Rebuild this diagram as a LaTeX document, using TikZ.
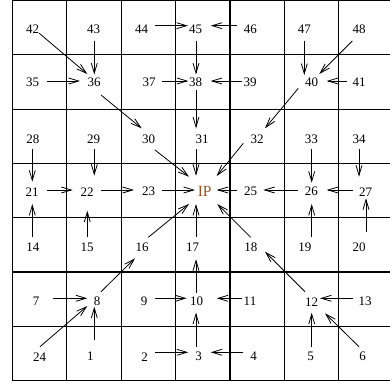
\documentclass[tikz,border=0pt]{standalone}
\usepackage{fontspec}
\setmainfont{Liberation Serif}
\usetikzlibrary{arrows.meta}
\definecolor{ipbrown}{RGB}{160,82,30}
\newcommand\conn[6]{\draw[arr] ([shift={(#2,#3)}]#1.center) -- ([shift={(#5,#6)}]#4.center);}
\begin{document}
\begin{tikzpicture}[x=1pt,y=-1pt,
  lbl/.style={inner sep=0pt, font=\fontsize{13}{13}\selectfont},
  iplbl/.style={inner sep=0pt, text=ipbrown, font=\fontsize{15.5}{15.5}\selectfont},
  arr/.style={-{Straight Barb[length=10pt,width=6pt]}, line width=0.8pt},
  gridline/.style={line width=1.2pt}]
\useasboundingbox (0,0) rectangle (390,383);
\clip (0,0) rectangle (390,383);
\fill[white] (0,0) rectangle (390,383);
% grid
\foreach \k in {0,...,6} \draw[gridline] ({12.3+54.4*\k},0) -- ({12.3+54.4*\k},381);
\foreach \k in {0,...,7} \draw[gridline] (12.3,{0.5+54.3*\k}) -- (395,{0.5+54.3*\k});
% labels row 7
\node[lbl] (n42) at (32.7,29.5) {42};
\node[lbl] (n43) at (93.7,29.5) {43};
\node[lbl] (n44) at (141.7,29.5) {44};
\node[lbl] (n45) at (195.7,29.5) {45};
\node[lbl] (n46) at (250.3,29.5) {46};
\node[lbl] (n47) at (304.3,29.5) {47};
\node[lbl] (n48) at (359,29.5) {48};
% row 6
\node[lbl] (n35) at (32.7,82.5) {35};
\node[lbl] (n36) at (94,82.5) {36};
\node[lbl] (n37) at (149,82.5) {37};
\node[lbl] (n38) at (195.7,82.5) {38};
\node[lbl] (n39) at (250,82.5) {39};
\node[lbl] (n40) at (311.7,82.5) {40};
\node[lbl] (n41) at (359,82.5) {41};
% row 5
\node[lbl] (n28) at (32.8,138.8) {28};
\node[lbl] (n29) at (93.7,138.8) {29};
\node[lbl] (n30) at (148.7,138.8) {30};
\node[lbl] (n31) at (202,138.8) {31};
\node[lbl] (n32) at (257,138.8) {32};
\node[lbl] (n33) at (311.3,138.8) {33};
\node[lbl] (n34) at (359.2,138.8) {34};
% row 4
\node[lbl] (n21) at (32,191.7) {21};
\node[lbl] (n22) at (87,191.7) {22};
\node[lbl] (n23) at (148.7,191.7) {23};
\node[iplbl] (nIP) at (204.7,191.7) {IP};
\node[lbl] (n25) at (250.5,191.7) {25};
\node[lbl] (n26) at (311.3,191.7) {26};
\node[lbl] (n27) at (365.5,191.7) {27};
% row 3
\node[lbl] (n14) at (32.8,247.7) {14};
\node[lbl] (n15) at (87,247.7) {15};
\node[lbl] (n16) at (142,247.7) {16};
\node[lbl] (n17) at (192.5,247.7) {17};
\node[lbl] (n18) at (250.8,247.7) {18};
\node[lbl] (n19) at (304.8,247.7) {19};
\node[lbl] (n20) at (359.2,247.7) {20};
% row 2
\node[lbl] (n7) at (36,301.7) {7};
\node[lbl] (n8) at (97,301.7) {8};
\node[lbl] (n9) at (144,301.7) {9};
\node[lbl] (n10) at (196.7,301.7) {10};
\node[lbl] (n11) at (250,301.7) {11};
\node[lbl] (n12) at (311.7,301.7) {12};
\node[lbl] (n13) at (365,301.7) {13};
% row 1
\node[lbl] (n24) at (39.7,356.7) {24};
\node[lbl] (n1) at (90.3,356.7) {1};
\node[lbl] (n2) at (144.5,356.7) {2};
\node[lbl] (n3) at (198.7,356.7) {3};
\node[lbl] (n4) at (253.7,356.7) {4};
\node[lbl] (n5) at (310.7,356.7) {5};
\node[lbl] (n6) at (362.7,356.7) {6};
% horizontal connectors
\conn{n44}{13.3}{-3.8}{n45}{-7.7}{-3.8}
\conn{n46}{-13}{-3.8}{n45}{15}{-3.8}
\conn{n35}{14}{-1.5}{n36}{-14}{-1.5}
\conn{n37}{13.3}{-1.5}{n38}{-7.4}{-1.5}
\conn{n39}{-8.3}{-1.5}{n38}{15}{-1.5}
\conn{n41}{-12.3}{-1.5}{n40}{15}{-1.5}
\conn{n21}{14.7}{-1.7}{n22}{-14.3}{-1.7}
\conn{n22}{14}{-1.7}{n23}{-14.7}{-1.7}
\conn{n23}{13.6}{-1.7}{nIP}{-9.7}{-1.7}
\conn{n25}{-13.2}{-1.7}{nIP}{12}{-1.7}
\conn{n26}{-13.6}{-1.7}{n25}{12.8}{-1.7}
\conn{n27}{-12.5}{-1.7}{n26}{15.4}{-1.7}
\conn{n7}{16.7}{-3.4}{n8}{-9.7}{-3.4}
\conn{n9}{11}{-3.4}{n10}{-10}{-3.4}
\conn{n11}{-8.3}{-3.4}{n10}{20}{-3.4}
\conn{n13}{-11.7}{-3.4}{n12}{8.3}{-3.4}
\conn{n2}{10.5}{-4.4}{n3}{-10.4}{-4.4}
\conn{n4}{-10.4}{-4.4}{n3}{12}{-4.4}
% vertical connectors
\conn{n28}{-0.5}{10.5}{n21}{0.3}{-10}
\conn{n43}{0.6}{11.2}{n36}{0.3}{-8}
\conn{n29}{0.6}{10.5}{n22}{7.3}{-16}
\conn{n15}{0.3}{-10.4}{n22}{0.3}{19}
\conn{n14}{-0.5}{-10.4}{n21}{0.3}{12.3}
\conn{n45}{0.3}{11.2}{n38}{0.3}{-8}
\conn{n38}{0.3}{7.5}{n31}{-6}{-10.5}
\conn{n31}{-6}{10.5}{nIP}{-8.7}{-16}
\conn{n17}{3.5}{-10.4}{nIP}{-8.7}{12.3}
\conn{n10}{-0.7}{-8.4}{n17}{3.5}{11.6}
\conn{n3}{-2.7}{-10}{n10}{-0.7}{11}
\conn{n47}{0}{11.2}{n40}{-7.4}{-7.5}
\conn{n33}{0.4}{10.5}{n26}{0.4}{-9}
\conn{n19}{6.9}{-10.4}{n26}{0.4}{12.3}
\conn{n5}{1}{-10}{n12}{0}{11}
\conn{n34}{-0.2}{10.5}{n27}{-6.5}{-15}
\conn{n20}{6.8}{-16}{n27}{0.5}{6.6}
\conn{n1}{4}{-16.7}{n8}{-2.7}{5}
% diagonal connectors
\conn{n42}{6.6}{3.8}{n36}{-6.7}{-8.5}
\conn{n48}{-6.7}{11.5}{n40}{7.6}{-8.5}
\conn{n36}{7}{12.5}{n30}{-7}{-10.5}
\conn{n40}{-13.4}{5.8}{n32}{8}{-10.5}
\conn{n30}{6.3}{11.2}{nIP}{-15.7}{-15}
\conn{n32}{-13.7}{4.5}{nIP}{12}{-15.7}
\conn{n16}{6.3}{-10.4}{nIP}{-15.7}{12.3}
\conn{n18}{-0.1}{-10.4}{nIP}{12.6}{12.3}
\conn{n8}{4}{-10}{n16}{-7}{10.6}
\conn{n12}{-6.7}{-10}{n18}{14.2}{4}
\conn{n24}{0.3}{-10}{n8}{-9.7}{4.3}
\conn{n6}{-3.7}{-10}{n12}{13.3}{11.6}
\end{tikzpicture}
\end{document}
